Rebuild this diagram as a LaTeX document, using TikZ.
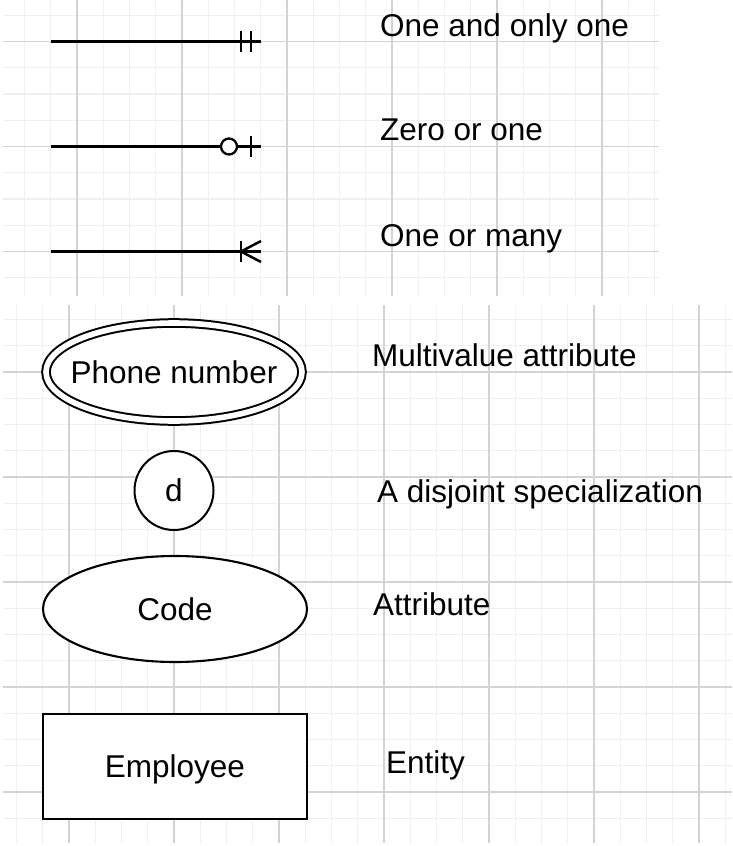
\documentclass[tikz,border=0pt]{standalone}
\usepackage{fontspec}
\setmainfont{Liberation Sans}
\usetikzlibrary{shapes.geometric}

\definecolor{gridmajor}{HTML}{D3D3D3}
\definecolor{gridminor}{HTML}{EFEFEF}

\begin{document}
\begin{tikzpicture}[x=1pt, y=-1pt,
  minorline/.style={gridminor, line width=1.2pt},
  majorline/.style={gridmajor, line width=1.2pt},
  relation/.style={line width=2.5pt},
  bigfont/.style={font=\fontsize{31.5}{37}\selectfont},
  legendtext/.style={bigfont, anchor=base west, inner sep=0pt},
  shapetext/.style={bigfont, inner sep=0pt, text height=22pt, text depth=0pt},
  attribute/.style={ellipse, draw, fill=white, line width=2.1pt, minimum width=264pt, minimum height=106pt, inner sep=0pt},
  multivalue/.style={ellipse, draw, line width=2pt, double, double distance=5.6pt, minimum width=256pt, minimum height=98pt, inner sep=0pt},
  special/.style={circle, draw, fill=white, bigfont, line width=2pt, minimum size=79pt, inner sep=0pt},
  entity/.style={rectangle, draw, fill=white, line width=2.6pt, minimum width=264pt, minimum height=105pt, inner sep=0pt},
  zeromark/.style={circle, draw, fill=white, line width=2.3pt, minimum size=16pt, inner sep=0pt}
]
\fill[white] (0,0) rectangle (732,846);
\useasboundingbox (0,0) rectangle (732,846);

% grid of the upper panel
\begin{scope}
  \clip (3,0) rectangle (659,296);
  \foreach \i in {0,...,25}
    \draw[minorline] (-1.75+26.25*\i,0) -- ++(0,296);
  \foreach \j in {0,...,12}
    \draw[minorline] (3,-11+26.25*\j) -- ++(656,0);
  \foreach \i in {0,...,7}
    \draw[majorline] (-28+105*\i,0) -- ++(0,296);
  \foreach \j in {0,1,2}
    \draw[majorline] (3,41.5+105*\j) -- ++(656,0);
\end{scope}

% grid of the lower panel
\begin{scope}
  \clip (3,305) rectangle (732,843);
  \foreach \i in {0,...,29}
    \draw[minorline] (-9.75+26.25*\i,305) -- ++(0,538);
  \foreach \j in {0,...,21}
    \draw[minorline] (3,293.25+26.25*\j) -- ++(729,0);
  \foreach \x in {69,174,...,699}
    \draw[majorline] (\x,305) -- ++(0,538);
  \foreach \y in {372,477,...,792}
    \draw[majorline] (3,\y) -- ++(729,0);
\end{scope}

% cardinalities
\coordinate (one1) at (51,41.5);
\coordinate (one2) at (261,41.5);
\draw[relation] (one1) -- (one2);
\draw[relation] ([xshift=-20pt]one2) ++(0,-10.5) -- ++(0,21);
\draw[relation] ([xshift=-10pt]one2) ++(0,-10.5) -- ++(0,21);

\coordinate (zero1) at (51,146.5);
\coordinate (zero2) at (261,146.5);
\node[zeromark] (zerocirc) at (229,146.5) {};
\draw[relation] (zero1) -- (zerocirc.west);
\draw[relation] (zerocirc.east) -- (zero2);
\draw[relation] ([xshift=-10pt]zero2) ++(0,-10.5) -- ++(0,21);

\coordinate (many1) at (51,251.5);
\coordinate (many2) at (261,251.5);
\draw[relation] (many1) -- (many2);
\draw[relation] ([xshift=-20pt]many2) ++(0,-10.5) -- ++(0,21);
\draw[relation] ([yshift=-10.5pt]many2) -- ([xshift=-20pt]many2) -- ([yshift=10.5pt]many2);

\node[legendtext] (onlyone) at (380,36) {One and only one};
\node[legendtext] (zeroone) at (380,140) {Zero or one};
\node[legendtext] (onemany) at (380,246) {One or many};

% ER shapes
\fill[white] (174,372) ellipse [x radius=128pt, y radius=49pt];
\node[multivalue] (phone) at (174,372) {};
\node[shapetext] (phonetext) at (phone) {Phone number};
\node[special] (disjoint) at (174,490.5) {d};
\node[attribute] (code) at (175,609) {};
\node[shapetext] (codetext) at (code) {Code};
\node[entity] (employee) at (175,766.5) {};
\node[shapetext] (employeetext) at (employee) {Employee};

\node[legendtext] (multi) at (372,366) {Multivalue attribute};
\node[legendtext] (disj) at (377,502) {A disjoint specialization};
\node[legendtext] (attr) at (373,615) {Attribute};
\node[legendtext] (ent) at (386,773) {Entity};
\end{tikzpicture}
\end{document}
